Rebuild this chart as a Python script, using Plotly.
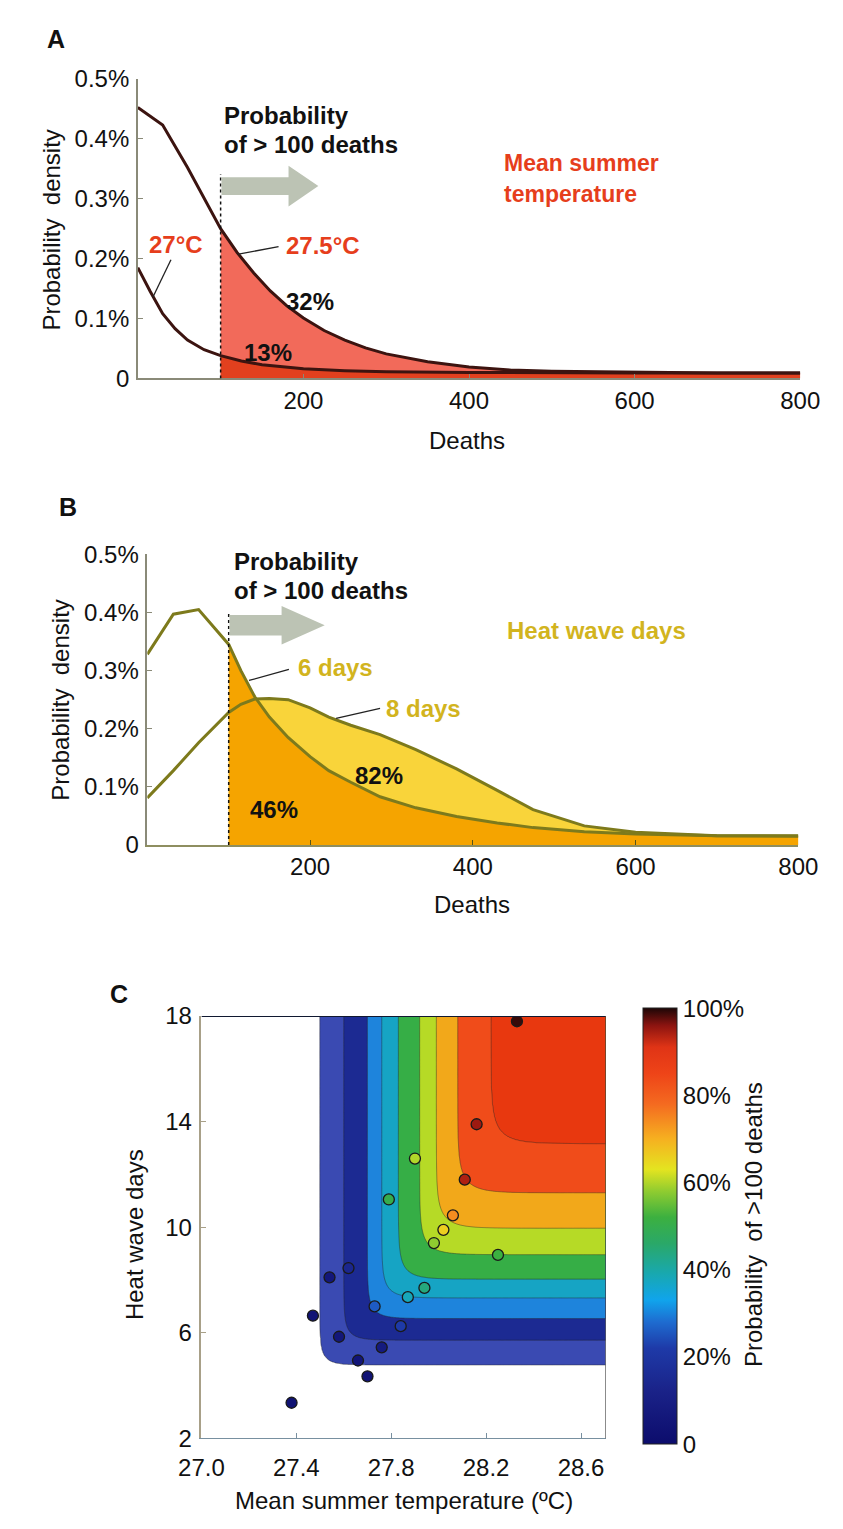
import numpy as np
import plotly.graph_objects as go

W, H = 843, 1529
FONT = "Liberation Sans, Arial, sans-serif"


def fx(x):
    return x / W


def fy(y):
    return 1 - y / H


# ---------------- Panel A: mean summer temperature ----------------
deaths_a_hot = [0, 30, 60, 100, 120, 140, 160, 180, 200, 225, 250, 275, 300,
                350, 400, 450, 500, 600, 700, 800]
dens_27_5 = [0.452, 0.423, 0.352, 0.250, 0.210, 0.176, 0.146, 0.121, 0.101,
             0.080, 0.064, 0.051, 0.041, 0.028, 0.019, 0.014, 0.012, 0.010,
             0.009, 0.009]
deaths_a_cool = [0, 15, 30, 45, 60, 80, 100, 125, 150, 200, 250, 300, 400,
                 500, 600, 800]
dens_27 = [0.185, 0.145, 0.108, 0.083, 0.064, 0.048, 0.038, 0.029, 0.023,
           0.016, 0.013, 0.011, 0.010, 0.009, 0.009, 0.009]

# ---------------- Panel B: heat wave days ----------------
deaths_b = [0, 32, 63, 100, 115, 132, 150, 173, 200, 223, 250, 286, 330, 380,
            430, 474, 537, 600, 700, 800]
dens_6d = [0.328, 0.397, 0.405, 0.345, 0.300, 0.255, 0.220, 0.185, 0.152,
           0.128, 0.108, 0.083, 0.064, 0.049, 0.038, 0.030, 0.023, 0.019,
           0.016, 0.016]
dens_8d = [0.081, 0.128, 0.176, 0.228, 0.242, 0.251, 0.252, 0.250, 0.236,
           0.220, 0.206, 0.190, 0.164, 0.131, 0.094, 0.061, 0.033, 0.022,
           0.016, 0.015]

threshold = 100
density_ticks = [0, 0.1, 0.2, 0.3, 0.4, 0.5]
density_labels = ["0", "0.1%", "0.2%", "0.3%", "0.4%", "0.5%"]
death_ticks = [200, 400, 600, 800]

# ---------------- Panel C: probability surface ----------------
# contour levels and where each level line levels off along each axis
band_levels = [0.0, 0.1, 0.2, 0.3, 0.4, 0.5, 0.6, 0.7, 0.8, 0.9, 1.0]
temp_breaks = [27.0, 27.50, 27.60, 27.70, 27.76, 27.83, 27.92, 27.99, 28.08,
               28.22, 28.704]
days_breaks = [2.0, 4.79, 5.72, 6.54, 7.32, 8.03, 8.96, 9.96, 11.30, 13.16,
               18.0]
band_colors = ["#ffffff", "#3a4ab2", "#1c2a92", "#1e84dc", "#16a4c4",
               "#36ae46", "#b6da26", "#f2a81a", "#f04c1a", "#e8380f"]

temp_obs = [28.33, 28.16, 28.11, 27.90, 27.79, 28.06, 28.02, 27.98, 28.25,
            27.94, 27.87, 27.84, 27.73, 27.62, 27.54, 27.47, 27.58, 27.76,
            27.66, 27.70, 27.38]
days_obs = [17.8, 13.9, 11.8, 12.6, 11.05, 10.45, 9.9, 9.4, 8.95, 7.7, 7.35,
            6.25, 7.0, 8.45, 8.1, 6.65, 5.85, 5.45, 4.95, 4.35, 3.35]
prob_obs = [0.99, 0.95, 0.94, 0.60, 0.50, 0.74, 0.66, 0.58, 0.52, 0.44, 0.38,
            0.22, 0.26, 0.14, 0.06, 0.04, 0.06, 0.08, 0.05, 0.04, 0.03]

temp_ticks = [27.0, 27.4, 27.8, 28.2, 28.6]
temp_labels = ["27.0", "27.4", "27.8", "28.2", "28.6"]
day_ticks = [2, 6, 10, 14, 18]
prob_ticks = [0, 0.2, 0.4, 0.6, 0.8, 1.0]
prob_labels = ["0", "20%", "40%", "60%", "80%", "100%"]

jet_scale = [
    [0.0, "#0c0c6c"], [0.12, "#1a2288"], [0.22, "#1e3aa8"], [0.28, "#1e6cd0"],
    [0.33, "#10a4ec"], [0.39, "#18a8b0"], [0.46, "#2aa868"], [0.52, "#3cb040"],
    [0.58, "#90cc30"], [0.63, "#e4e420"], [0.70, "#f6b020"], [0.78, "#f46a20"],
    [0.85, "#ee4418"], [0.91, "#e03416"], [0.96, "#8c1410"], [1.0, "#1c0606"],
]

# stepped colour scale for the filled contour bands
step_scale = []
for i, c in enumerate(band_colors):
    lo = 0.0 if i == 0 else 0.1 * i - 0.004
    hi = 1.0 if i == len(band_colors) - 1 else 0.1 * (i + 1) - 0.004
    step_scale += [[lo, c], [hi, c]]

# probability grid: every level line is an L with a rounded corner whose
# straight arms sit at temp_breaks / days_breaks; the surface is interpolated
# between neighbouring level lines.
X_RANGE = [27.0, 28.704]
Y_RANGE = [2.0, 18.0]
px_per_deg = (614 - 188) / (X_RANGE[1] - X_RANGE[0])
px_per_day = (1450 - 1020) / (Y_RANGE[1] - Y_RANGE[0])

tg = np.linspace(X_RANGE[0], X_RANGE[1], 401)
dg = np.linspace(Y_RANGE[0], Y_RANGE[1], 401)
TT, DD = np.meshgrid(tg, dg)


def soft_min(a, b, r):
    m = np.minimum(a, b)
    return m - r * np.log1p(np.exp(-np.abs(a - b) / r))


G = []
for p, tb, db in zip(band_levels, temp_breaks, days_breaks):
    r = 9.0 + 9.0 * p
    G.append(soft_min((TT - tb) * px_per_deg, (DD - db) * px_per_day, r))
G = np.array(G)
zgrid = np.zeros_like(TT)
for i in range(len(band_levels) - 1):
    g0, g1 = G[i], G[i + 1]
    sel = (g0 >= 0) & (g1 < 0)
    frac = np.where(sel, g0 / np.where(sel, g0 - g1, 1.0), 0.0)
    zgrid = np.where(sel, band_levels[i] + frac * (band_levels[i + 1] -
                                                   band_levels[i]), zgrid)
zgrid = np.where(G[-1] >= 0, 1.0, zgrid)

fig = go.Figure()


def above(xs, ys, cut):
    pairs = [(x, y) for x, y in zip(xs, ys) if x >= cut]
    return [p[0] for p in pairs], [p[1] for p in pairs]


# panel A fills and curves
xa, ya = above(deaths_a_hot, dens_27_5, threshold)
fig.add_trace(go.Scatter(x=xa, y=ya, fill="tozeroy", mode="none",
                         fillcolor="#f26a5a", xaxis="x", yaxis="y"))
xa2, ya2 = above(deaths_a_cool, dens_27, threshold)
fig.add_trace(go.Scatter(x=xa2, y=ya2, fill="tozeroy", mode="none",
                         fillcolor="#e2401e", xaxis="x", yaxis="y"))
for xs, ys in [(deaths_a_hot, dens_27_5), (deaths_a_cool, dens_27)]:
    fig.add_trace(go.Scatter(x=xs, y=ys, mode="lines",
                             line=dict(color="#3c1410", width=3),
                             xaxis="x", yaxis="y"))

# panel B fills and curves
xb8, yb8 = above(deaths_b, dens_8d, threshold)
fig.add_trace(go.Scatter(x=xb8, y=yb8, fill="tozeroy", mode="none",
                         fillcolor="#f9d43a", xaxis="x2", yaxis="y2"))
xb6, yb6 = above(deaths_b, dens_6d, threshold)
fig.add_trace(go.Scatter(x=xb6, y=yb6, fill="tozeroy", mode="none",
                         fillcolor="#f5a400", xaxis="x2", yaxis="y2"))
for ys in [dens_6d, dens_8d]:
    fig.add_trace(go.Scatter(x=deaths_b, y=ys, mode="lines",
                             line=dict(color="#7d7a1c", width=3),
                             xaxis="x2", yaxis="y2"))

# panel C contour surface and observed summers
fig.add_trace(go.Contour(
    x=tg, y=dg, z=zgrid, xaxis="x3", yaxis="y3",
    colorscale=step_scale, zmin=0, zmax=1, zauto=False, showscale=False,
    contours=dict(start=0.1, end=0.9, size=0.1, coloring="fill"),
    line=dict(color="rgba(40,40,40,0.55)", width=0.8, smoothing=1),
    hoverinfo="skip"))
fig.add_trace(go.Scatter(
    x=temp_obs, y=days_obs, mode="markers", xaxis="x3", yaxis="y3",
    marker=dict(size=11, color=prob_obs, colorscale=jet_scale, cmin=0, cmax=1,
                line=dict(color="#1a1a1a", width=1.3), showscale=True,
                colorbar=dict(x=fx(653), xanchor="left", y=fy(1234),
                              yanchor="middle", len=436, lenmode="pixels",
                              thickness=34, thicknessmode="pixels",
                              tickvals=prob_ticks, ticktext=prob_labels,
                              ticks="", outlinewidth=1, outlinecolor="#222",
                              xpad=0, ypad=0,
                              tickfont=dict(family=FONT, size=24,
                                            color="#111")))))

axis_common = dict(showgrid=False, zeroline=False, showline=True,
                   ticks="inside", ticklen=5, tickwidth=1.2,
                   tickfont=dict(family=FONT, size=24, color="#111"))

fig.update_layout(
    width=W, height=H, margin=dict(l=0, r=0, t=0, b=0),
    paper_bgcolor="white", plot_bgcolor="white", showlegend=False,
    xaxis=dict(domain=[fx(121), fx(819)], range=[0, 800], anchor="y",
               tickvals=death_ticks, linecolor="#8a8a78", tickcolor="#8a8a78",
               linewidth=1.5, ticklabelstandoff=0, **axis_common),
    yaxis=dict(domain=[fy(371), fy(66)], range=[0, 0.5], anchor="x",
               tickvals=density_ticks, ticktext=density_labels,
               linecolor="#8a8a78", tickcolor="#8a8a78", linewidth=1.5,
               ticklabelstandoff=2, **axis_common),
    xaxis2=dict(domain=[fx(131), fx(817)], range=[0, 800], anchor="y2",
                tickvals=death_ticks, linecolor="#8e8e60",
                tickcolor="#55551a", linewidth=1.5, ticklabelstandoff=-1,
                **axis_common),
    yaxis2=dict(domain=[fy(846), fy(550)], range=[0, 0.5], anchor="x2",
                tickvals=density_ticks, ticktext=density_labels,
                linecolor="#8a8a78", tickcolor="#8a8a78", linewidth=1.5,
                ticklabelstandoff=2, **axis_common),
    xaxis3=dict(domain=[fx(188), fx(614)], range=X_RANGE,
                anchor="y3", tickvals=temp_ticks, ticktext=temp_labels,
                linecolor="#7890a0", tickcolor="#7890a0", linewidth=1.2,
                ticklabelstandoff=8, **axis_common),
    yaxis3=dict(domain=[fy(1450), fy(1020)], range=Y_RANGE, anchor="x3",
                tickvals=day_ticks, linecolor="#a8a088", tickcolor="#a8a088",
                linewidth=1.5, ticklabelstandoff=3, **axis_common),
)

# threshold markers, arrows, leader lines and frame of panel C
shapes = []
shapes.append(dict(type="line", xref="x", yref="y", x0=threshold,
                   x1=threshold, y0=0, y1=0.341,
                   line=dict(color="#111", width=1.5, dash="dot")))
shapes.append(dict(type="line", xref="x2", yref="y2", x0=threshold,
                   x1=threshold, y0=0, y1=0.40,
                   line=dict(color="#111", width=1.5, dash="dot")))


def fat_arrow(xref, yref, x0, xh, x1, yc, hs, hh):
    p = (f"M {x0},{yc - hs} L {xh},{yc - hs} L {xh},{yc - hh} L {x1},{yc} "
         f"L {xh},{yc + hh} L {xh},{yc + hs} L {x0},{yc + hs} Z")
    return dict(type="path", xref=xref, yref=yref, path=p,
                fillcolor="#bcc3b4", line=dict(width=0), layer="above")


shapes.append(fat_arrow("x", "y", 101, 182, 218, 0.321, 0.0148, 0.034))
shapes.append(fat_arrow("x2", "y2", 101, 165, 218, 0.378, 0.0177, 0.033))

for xr, yr, a, b, c, d in [("x", "y", 40, 0.198, 18, 0.135),
                           ("x", "y", 170, 0.220, 120, 0.207),
                           ("x2", "y2", 174, 0.302, 125, 0.283),
                           ("x2", "y2", 286, 0.235, 232, 0.218)]:
    shapes.append(dict(type="line", xref=xr, yref=yr, x0=a, y0=b, x1=c,
                       y1=d, line=dict(color="#222", width=1.3)))

shapes.append(dict(type="line", xref="x3", yref="y3", x0=X_RANGE[0],
                   x1=X_RANGE[1], y0=18, y1=18,
                   line=dict(color="#101830", width=2)))
shapes.append(dict(type="line", xref="x3", yref="y3", x0=X_RANGE[1],
                   x1=X_RANGE[1], y0=2, y1=18,
                   line=dict(color="#303030", width=1)))
fig.update_layout(shapes=shapes)


def note(text, x, y, size=24, color="#111", bold=False, anchor="center",
         angle=0):
    t = f"<b>{text}</b>" if bold else text
    return dict(text=t, x=fx(x), y=fy(y), xref="paper", yref="paper",
                showarrow=False, xanchor=anchor, yanchor="middle",
                textangle=angle,
                font=dict(family=FONT, size=size, color=color))


red = "#e63e1c"
gold = "#d2b41e"
ann = [
    note("A", 35, 25, size=25, bold=True),
    note("B", 47, 502, size=25, bold=True),
    note("C", 101, 998, size=25, bold=True),
    # panel A
    note("Probability  density", 30, 220, angle=-90),
    note("Deaths", 468, 434),
    note("Probability", 210, 103, bold=True, anchor="left"),
    note("of &gt; 100 deaths", 210, 133, bold=True, anchor="left"),
    note("Mean summer", 505, 152, size=23, color=red, bold=True,
         anchor="left"),
    note("temperature", 505, 183, size=23, color=red, bold=True,
         anchor="left"),
    note("27°C", 161, 235, color=red, bold=True),
    note("27.5°C", 316, 236, color=red, bold=True),
    note("32%", 302, 293, bold=True),
    note("13%", 258, 345, bold=True),
    # panel B
    note("Probability  density", 40, 698, angle=-90),
    note("Deaths", 473, 907),
    note("Probability", 220, 557, bold=True, anchor="left"),
    note("of &gt; 100 deaths", 220, 587, bold=True, anchor="left"),
    note("Heat wave days", 508, 628, color=gold, bold=True, anchor="left"),
    note("6 days", 288, 665, color=gold, bold=True, anchor="left"),
    note("8 days", 380, 707, color=gold, bold=True, anchor="left"),
    note("82%", 375, 775, bold=True),
    note("46%", 265, 810, bold=True),
    # panel C
    note("Heat wave days", 117, 1243, angle=-90),
    note("Mean summer temperature (ºC)", 402, 1513),
    note("Probability  of &gt;100 deaths", 769, 1232, angle=-90),
]
fig.update_layout(annotations=ann)

fig.write_html("out.html")
